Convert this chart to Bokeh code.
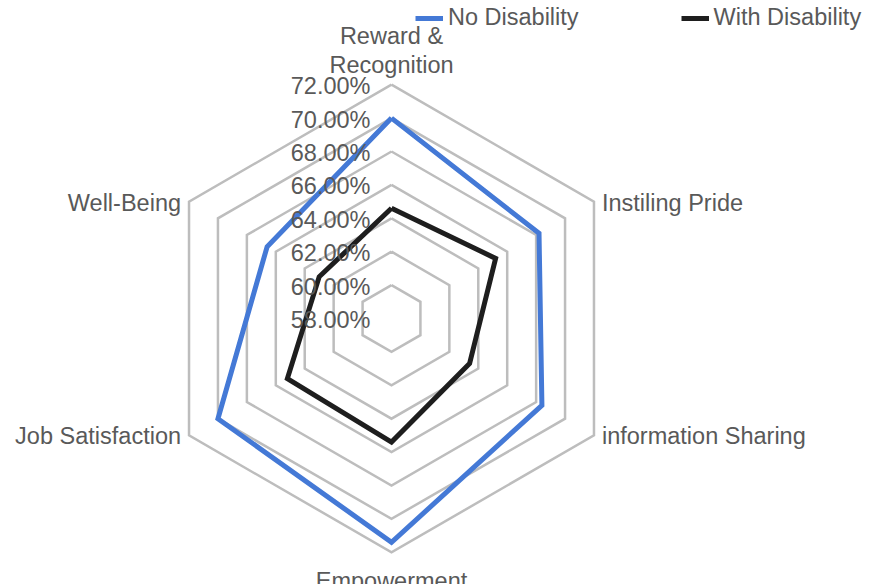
import numpy as np
from bokeh.plotting import figure
from bokeh.models import Range1d, Legend, LegendItem, ColumnDataSource
from bokeh.core.properties import value
from bokeh.embed import file_html
from bokeh.resources import INLINE

# ---- data ----
categories = ["Reward &\nRecognition", "Instiling Pride", "information Sharing",
              "Empowerment", "Job Satisfaction", "Well-Being"]
no_disability = [70.0, 68.2, 68.4, 71.4, 70.0, 66.6]
with_disability = [64.6, 65.2, 63.4, 65.4, 65.2, 63.0]
ticks = [58, 60, 62, 64, 66, 68, 70, 72]
tick_labels = ["58.00%", "60.00%", "62.00%", "64.00%", "66.00%", "68.00%", "70.00%", "72.00%"]
r_min, r_max = 58, 72

FONT = "Liberation Sans"
TXT = "#595959"
FS = "23.5px"

# ---- geometry ----
W, H = 883, 584
S = 16.7            # px per percentage point
CX, CY = 391, 318   # center in canvas px
n = len(categories)
ang = np.deg2rad(90 - 360.0 * np.arange(n) / n)

def polar(vals):
    r = np.asarray(vals, dtype=float) - r_min
    x = r * np.cos(ang)
    y = r * np.sin(ang)
    return np.append(x, x[0]), np.append(y, y[0])

p = figure(width=W, height=H, output_backend="svg", toolbar_location=None,
           min_border=0, outline_line_color=None,
           x_range=Range1d(-CX / S, (W - CX) / S),
           y_range=Range1d(-(H - CY) / S, CY / S))
p.axis.visible = False
p.grid.visible = False
p.background_fill_color = "white"

# grid rings
for t in ticks[1:]:
    gx, gy = polar([t] * n)
    p.line(gx, gy, line_color="#bdbdbd", line_width=2.5, line_join="miter")

bx, by = polar(no_disability)
kx, ky = polar(with_disability)
r_blue = p.line(bx, by, line_color="#4479D6", line_width=5, line_join="miter")
r_black = p.line(kx, ky, line_color="#1e1e1e", line_width=5, line_join="miter")

# tick labels along the vertical axis
tsrc = ColumnDataSource(dict(x=[-21 / S] * len(ticks),
                             y=[t - r_min - 1.5 / S for t in ticks],
                             t=tick_labels))
p.text(x="x", y="y", text="t", source=tsrc, text_align="right", text_baseline="middle",
       text_font=value(FONT), text_font_size=FS, text_color=TXT)

# category labels
rr = r_max - r_min
cos_a, sin_a = np.cos(ang), np.sin(ang)
lx, ly, al, bl = [], [], [], []
for i in range(n):
    vx, vy = rr * cos_a[i], rr * sin_a[i]
    if abs(cos_a[i]) < 1e-6:
        lx.append(vx)
        if sin_a[i] > 0:
            ly.append(vy + 34 / S)
            bl.append("middle")
        else:
            ly.append(vy - 29 / S)
            bl.append("alphabetic")
        al.append("center")
    elif cos_a[i] > 0:
        lx.append(vx + 8 / S); ly.append(vy - 1 / S); al.append("left"); bl.append("middle")
    else:
        lx.append(vx - 8 / S); ly.append(vy - 1 / S); al.append("right"); bl.append("middle")

for i in range(n):
    p.text(x=[lx[i]], y=[ly[i]], text=[categories[i]], text_align=al[i], text_baseline=bl[i],
           text_font=value(FONT), text_font_size=FS, text_color=TXT, text_line_height=1.12)

legend = Legend(items=[LegendItem(label="No Disability", renderers=[r_blue]),
                       LegendItem(label="With Disability", renderers=[r_black])],
                orientation="horizontal", location=(415, 553),
                label_text_font=FONT, label_text_font_size=FS, label_text_color=TXT,
                glyph_width=28, label_standoff=5, spacing=102, padding=0, margin=0,
                border_line_color=None, background_fill_alpha=0)
p.add_layout(legend)

open("out.html", "w").write(file_html(p, INLINE))
